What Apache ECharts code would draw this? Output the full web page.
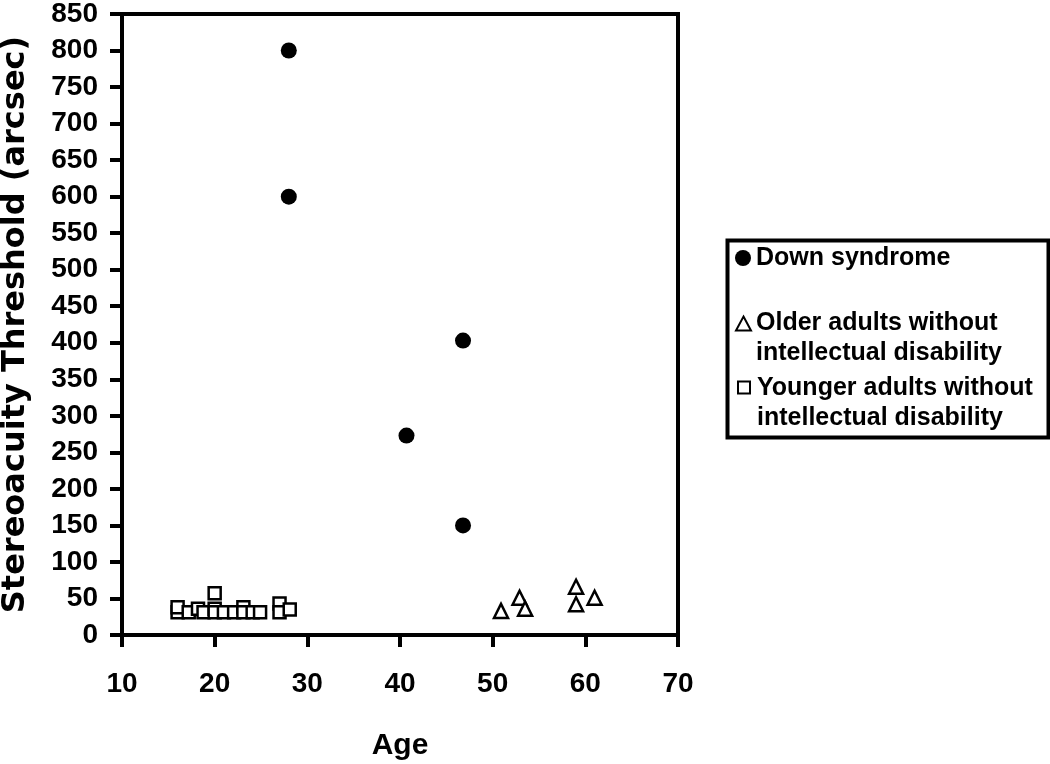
<!DOCTYPE html>
<html>
<head>
<meta charset="utf-8">
<script src="https://cdn.jsdelivr.net/npm/echarts@6/dist/echarts.min.js"></script>
<style>html,body{margin:0;padding:0;background:#fff;}#c{width:1050px;height:764px;}</style>
</head>
<body>
<div id="c"></div>
<script>
// ---- data (age, stereoacuity threshold in arcsec) ----
const downSyndrome = [[28, 800], [28, 600], [46.8, 403], [40.7, 273], [46.8, 150]];
const olderAdults = [[50.9, 33], [52.9, 51], [53.5, 36], [59, 66], [59, 42], [61, 51]];
const youngerAdults = [
  [16, 31], [16, 38], [17.2, 31], [18.2, 36], [18.8, 31], [20, 57], [20, 36], [20, 31],
  [21, 31], [22.1, 31], [23.1, 38], [23.1, 31], [24.1, 31], [24.9, 31], [27, 43], [27, 31], [28.1, 35]
];
const seriesNames = ['Down syndrome', 'Older adults without\nintellectual disability', 'Younger adults without\nintellectual disability'];
const xAxisName = 'Age';
const yAxisName = 'Stereoacuity Threshold (arcsec)';

const FONT = '"Liberation Sans", Arial, sans-serif';
const chart = echarts.init(document.getElementById('c'), null, {renderer: 'canvas'});

// legend icons: shape on top of a taller box so it lines up with the first text line
const triIcon = 'path://M0,0 M7.5,1 L15,15 L0,15 Z M15,45';
const sqIcon = 'path://M0,0 M1,1 L13,1 L13,13 L1,13 Z M15,45';

const legendText = {fontFamily: FONT, fontWeight: 'bold', fontSize: 25, color: '#000', lineHeight: 30};

chart.setOption({
  animation: false,
  backgroundColor: '#fff',
  grid: {left: 122, right: 372, top: 14, bottom: 129, show: true, borderColor: '#000', borderWidth: 4,
         backgroundColor: 'transparent', containLabel: false, outerBoundsMode: 'none'},
  xAxis: {
    type: 'value', min: 10, max: 70, interval: 10,
    name: xAxisName, nameLocation: 'middle', nameGap: 96,
    nameTextStyle: {fontFamily: FONT, fontWeight: 'bold', fontSize: 30, color: '#000'},
    axisLine: {show: true, onZero: false, lineStyle: {color: '#000', width: 4}},
    axisTick: {show: true, inside: false, length: 12, lineStyle: {color: '#000', width: 4}},
    axisLabel: {margin: 35, fontFamily: FONT, fontWeight: 'bold', fontSize: 28, color: '#000'},
    splitLine: {show: false}
  },
  yAxis: {
    type: 'value', min: 0, max: 850, interval: 50,
    name: yAxisName, nameLocation: 'middle', nameGap: 90, nameRotate: 90,
    nameTextStyle: {fontFamily: '"DejaVu Sans", sans-serif', fontWeight: 'bold', fontSize: 32, color: '#000'},
    axisLine: {show: true, onZero: false, lineStyle: {color: '#000', width: 4}},
    axisTick: {show: true, inside: false, length: 12, lineStyle: {color: '#000', width: 4}},
    axisLabel: {margin: 24, fontFamily: FONT, fontWeight: 'bold', fontSize: 28, color: '#000'},
    splitLine: {show: false}
  },
  legend: [
    {data: [{name: seriesNames[0], icon: 'circle'}], orient: 'vertical', left: 735, top: 243, padding: 0,
     itemWidth: 16, itemHeight: 16, textStyle: legendText, selectedMode: false},
    {data: [{name: seriesNames[1], icon: triIcon}], orient: 'vertical', left: 735, top: 308, padding: 0,
     itemWidth: 15, itemHeight: 45, textStyle: legendText, selectedMode: false},
    {data: [{name: seriesNames[2], icon: sqIcon}], orient: 'vertical', left: 736, top: 373, padding: 0,
     itemWidth: 15, itemHeight: 45, textStyle: legendText, selectedMode: false}
  ],
  graphic: [{
    type: 'rect', left: 725, top: 238, z: 0,
    shape: {width: 321, height: 197},
    style: {fill: 'none', stroke: '#000', lineWidth: 4}
  }],
  series: [
    {name: seriesNames[0], type: 'scatter', data: downSyndrome, symbol: 'circle', symbolSize: 16,
     itemStyle: {color: '#000', borderColor: '#000', borderWidth: 0, opacity: 1}},
    {name: seriesNames[1], type: 'scatter', data: olderAdults, symbol: 'triangle', symbolSize: [14, 14],
     itemStyle: {color: '#fff', borderColor: '#000', borderWidth: 2.5, opacity: 1}},
    {name: seriesNames[2], type: 'scatter', data: youngerAdults, symbol: 'rect', symbolSize: 12,
     itemStyle: {color: '#fff', borderColor: '#000', borderWidth: 2.5, opacity: 1}}
  ]
});
</script>
</body>
</html>
